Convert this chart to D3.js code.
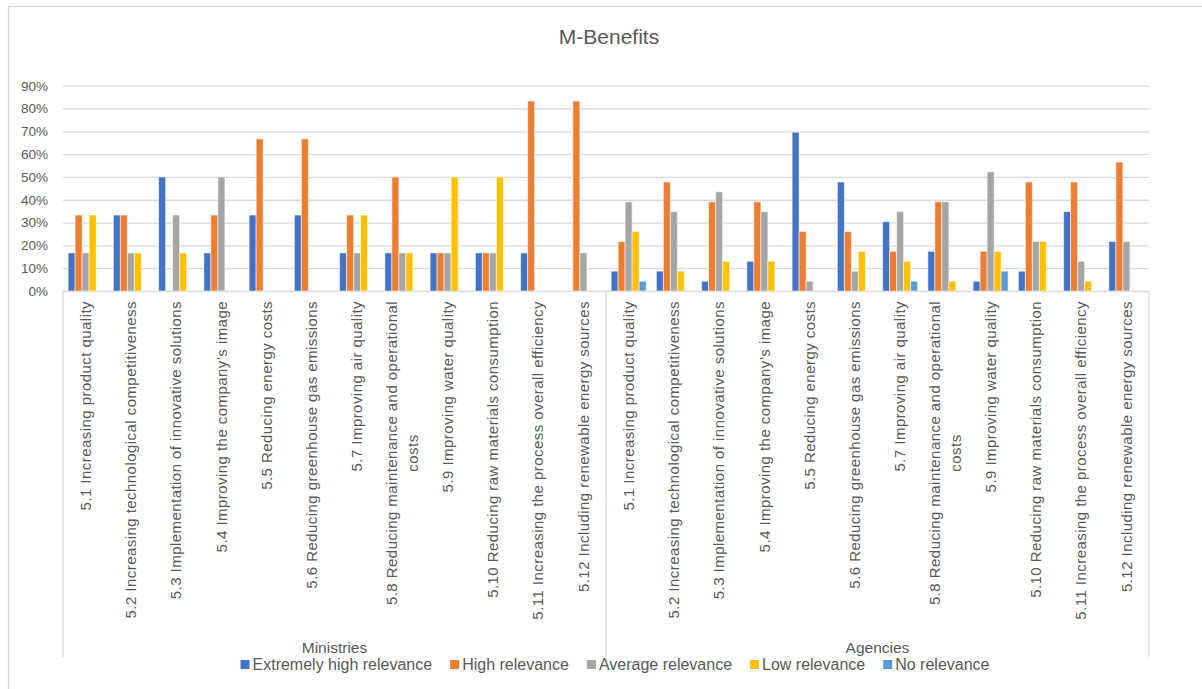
<!DOCTYPE html>
<html><head><meta charset="utf-8">
<script src="https://cdn.jsdelivr.net/npm/d3@7"></script>
<style>html,body{margin:0;padding:0;background:#fff;overflow:hidden}</style>
</head><body><svg id="c" width="1202" height="689"></svg>
<script>
const title = "M-Benefits";
const groups = ["Ministries", "Agencies"];
const categories = [
  "5.1 Increasing product quality",
  "5.2 Increasing technological competitiveness",
  "5.3 Implementation of innovative solutions",
  "5.4 Improving the company’s image",
  "5.5 Reducing energy costs",
  "5.6 Reducing greenhouse gas emissions",
  "5.7 Improving air quality",
  "5.8 Reducing maintenance and operational\ncosts",
  "5.9 Improving water quality",
  "5.10 Reducing raw materials consumption",
  "5.11 Increasing the process overall efficiency",
  "5.12 Including renewable energy sources"
];
const seriesNames = ["Extremely high relevance", "High relevance", "Average relevance", "Low relevance", "No relevance"];
const seriesColors = ["#4472C4", "#ED7D31", "#A5A5A5", "#FFC000", "#5B9BD5"];
const yTicks = [0, 10, 20, 30, 40, 50, 60, 70, 80, 90];

const ministriesExtremelyHigh = [16.7, 33.3, 50, 16.7, 33.3, 33.3, 16.7, 16.7, 16.7, 16.7, 16.7, 0];
const ministriesHigh          = [33.3, 33.3, 0, 33.3, 66.7, 66.7, 33.3, 50, 16.7, 16.7, 83.3, 83.3];
const ministriesAverage       = [16.7, 16.7, 33.3, 50, 0, 0, 16.7, 16.7, 16.7, 16.7, 0, 16.7];
const ministriesLow           = [33.3, 16.7, 16.7, 0, 0, 0, 33.3, 16.7, 50, 50, 0, 0];
const ministriesNone          = [0, 0, 0, 0, 0, 0, 0, 0, 0, 0, 0, 0];
const agenciesExtremelyHigh   = [8.7, 8.7, 4.3, 13.0, 69.6, 47.8, 30.4, 17.4, 4.3, 8.7, 34.8, 21.7];
const agenciesHigh            = [21.7, 47.8, 39.1, 39.1, 26.1, 26.1, 17.4, 39.1, 17.4, 47.8, 47.8, 56.5];
const agenciesAverage         = [39.1, 34.8, 43.5, 34.8, 4.3, 8.7, 34.8, 39.1, 52.2, 21.7, 13.0, 21.7];
const agenciesLow             = [26.1, 8.7, 13.0, 13.0, 0, 17.4, 13.0, 4.3, 17.4, 21.7, 4.3, 0];
const agenciesNone            = [4.3, 0, 0, 0, 0, 0, 4.3, 0, 8.7, 0, 0, 0];

const valuesByGroup = {
  "Ministries": [ministriesExtremelyHigh, ministriesHigh, ministriesAverage, ministriesLow, ministriesNone],
  "Agencies": [agenciesExtremelyHigh, agenciesHigh, agenciesAverage, agenciesLow, agenciesNone]
};

const FONT = "'Liberation Sans', Arial, sans-serif";
const TXT = "#595959";
const GRID = "#D9D9D9";

const svg = d3.select("#c");
svg.append("rect").attr("width", 1202).attr("height", 689).attr("fill", "#fff");
svg.append("rect").attr("x", 8.5).attr("y", 6.5).attr("width", 1250).attr("height", 750)
  .attr("fill", "none").attr("stroke", GRID).attr("stroke-width", 1.3);

const left = 63, right = 1149, top0 = 85.7, base = 291, axisBottom = 657;

const keys = [];
groups.forEach(g => categories.forEach((c, i) => keys.push({g, c, i, key: g + "|" + i})));

const x = d3.scaleBand().domain(keys.map(k => k.key)).range([left, right]).paddingInner(0).paddingOuter(0);
const xs = d3.scaleBand().domain(seriesNames).range([0, x.bandwidth()]).paddingInner(0).paddingOuter(0.73);
const y = d3.scaleLinear().domain([0, 90]).range([base, top0]);

const yAxis = d3.axisLeft(y).tickValues(yTicks).tickSize(-(right - left)).tickPadding(15).tickFormat(d => d + "%");
const ga = svg.append("g").attr("transform", `translate(${left},0)`).call(yAxis);
ga.select(".domain").remove();
ga.selectAll(".tick line").attr("stroke", GRID).attr("stroke-width", 1.3);
ga.selectAll(".tick text").attr("fill", TXT).style("font-family", FONT).style("font-size", "13.5px");

svg.append("text").attr("x", (left + right) / 2 + 3).attr("y", 44).attr("text-anchor", "middle")
  .attr("fill", TXT).style("font-family", FONT).style("font-size", "21px").text(title);

const barData = [];
keys.forEach(k => {
  seriesNames.forEach((s, si) => {
    const v = valuesByGroup[k.g][si][k.i];
    if (v > 0) barData.push({key: k.key, s, si, v});
  });
});
svg.append("g").selectAll("rect").data(barData).join("rect")
  .attr("x", d => x(d.key) + xs(d.s))
  .attr("y", d => y(d.v))
  .attr("width", xs.bandwidth())
  .attr("height", d => y(0) - y(d.v))
  .attr("fill", d => seriesColors[d.si])
  .attr("stroke", "#fff").attr("stroke-width", 1).attr("stroke-opacity", 0.55);

const divX = x(groups[1] + "|0");
[left, divX, right].forEach(xx => {
  svg.append("line").attr("x1", xx).attr("x2", xx).attr("y1", base).attr("y2", axisBottom)
    .attr("stroke", GRID).attr("stroke-width", 1.3);
});

const labTop = 301;
const lg = svg.append("g");
keys.forEach(k => {
  const lines = k.c.split("\n");
  const cx = x(k.key) + x.bandwidth() / 2;
  const g = lg.append("g").attr("transform", `translate(${cx},${labTop}) rotate(-90)`);
  const lh = 21;
  const texts = lines.map((ln, li) => g.append("text")
    .attr("y", (li - (lines.length - 1) / 2) * lh)
    .attr("dy", "0.35em")
    .attr("fill", TXT).style("font-family", FONT).style("font-size", "15px")
    .style("letter-spacing", "0.45px")
    .text(ln));
  const widths = texts.map(t => t.node().getComputedTextLength());
  const wmax = d3.max(widths);
  texts.forEach(t => t.attr("text-anchor", "middle").attr("x", -wmax / 2));
});

groups.forEach(g => {
  const x0 = x(g + "|0"), x1 = x(g + "|" + (categories.length - 1)) + x.bandwidth();
  svg.append("text").attr("x", (x0 + x1) / 2).attr("y", 653).attr("text-anchor", "middle")
    .attr("fill", TXT).style("font-family", FONT).style("font-size", "15.5px").text(g);
});

const leg = svg.append("g");
let cursor = 0;
seriesNames.forEach((s, i) => {
  const it = leg.append("g");
  it.append("rect").attr("x", 0).attr("y", -10).attr("width", 9).attr("height", 9).attr("fill", seriesColors[i]);
  const t = it.append("text").attr("x", 12).attr("y", 0).attr("fill", TXT)
    .style("font-family", FONT).style("font-size", "16px").text(s);
  const w = 12 + t.node().getComputedTextLength();
  it.attr("transform", `translate(${cursor},0)`);
  cursor += w + 18;
});
const legW = cursor - 18;
leg.attr("transform", `translate(${615 - legW / 2},670)`);
</script></body></html>
